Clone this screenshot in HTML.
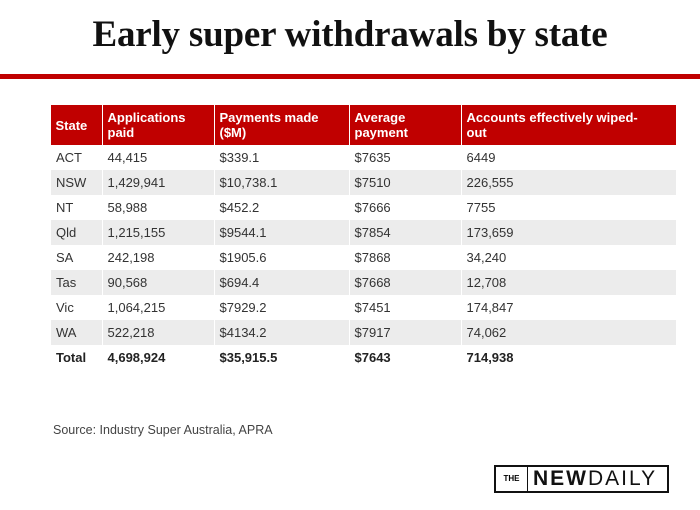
<!DOCTYPE html><html><head><style>
body{margin:0;width:700px;height:510px;background:#fff;position:relative;font-family:"Liberation Sans",sans-serif;overflow:hidden}
h1{position:absolute;top:13px;left:0;width:700px;text-align:center;margin:0;font-family:"Liberation Serif",serif;font-weight:bold;font-size:37px;color:#111;letter-spacing:-0.2px}
.bar{position:absolute;top:74px;left:0;width:700px;height:5px;background:#c00000}
table{position:absolute;top:105px;left:50px;width:626px;border-collapse:collapse;font-size:13px;color:#333}
th{background:#c00000;color:#fff;text-align:left;font-weight:bold;height:40px;padding:0 5px;line-height:15px;border-left:1px solid #fff;vertical-align:middle}
th:first-child{border-left:none}
td{height:25px;padding:0 5px;border-left:1px solid #fff}
tr:nth-child(odd) td{background:#ececec}
.tot td{font-weight:bold;color:#222}
.src{position:absolute;top:423px;left:53px;font-size:12.5px;color:#444}
.logo{position:absolute;left:494px;top:465px;width:175px;height:28px;border:2px solid #111;box-sizing:border-box}
.logo .the{position:absolute;left:0;top:0;width:31px;height:24px;border-right:1.5px solid #111;font-size:8px;font-weight:bold;text-align:center;line-height:24px}
.logo .nd{position:absolute;left:37px;top:0;line-height:24px;font-size:21px;letter-spacing:2px;color:#111}
</style></head><body>
<h1>Early super withdrawals by state</h1>
<div class="bar"></div>
<table>
<tr><th style="width:41px">State</th><th style="width:101px">Applications<br>paid</th><th style="width:124px">Payments made<br>($M)</th><th style="width:101px">Average<br>payment</th><th>Accounts effectively wiped-<br>out</th></tr>
<tr><td>ACT</td><td>44,415</td><td>$339.1</td><td>$7635</td><td>6449</td></tr>
<tr><td>NSW</td><td>1,429,941</td><td>$10,738.1</td><td>$7510</td><td>226,555</td></tr>
<tr><td>NT</td><td>58,988</td><td>$452.2</td><td>$7666</td><td>7755</td></tr>
<tr><td>Qld</td><td>1,215,155</td><td>$9544.1</td><td>$7854</td><td>173,659</td></tr>
<tr><td>SA</td><td>242,198</td><td>$1905.6</td><td>$7868</td><td>34,240</td></tr>
<tr><td>Tas</td><td>90,568</td><td>$694.4</td><td>$7668</td><td>12,708</td></tr>
<tr><td>Vic</td><td>1,064,215</td><td>$7929.2</td><td>$7451</td><td>174,847</td></tr>
<tr><td>WA</td><td>522,218</td><td>$4134.2</td><td>$7917</td><td>74,062</td></tr>
<tr class="tot"><td>Total</td><td>4,698,924</td><td>$35,915.5</td><td>$7643</td><td>714,938</td></tr>
</table>
<div class="src">Source: Industry Super Australia, APRA</div>
<div class="logo"><div class="the">THE</div><div class="nd"><b>NEW</b>DAILY</div></div>
</body></html>
